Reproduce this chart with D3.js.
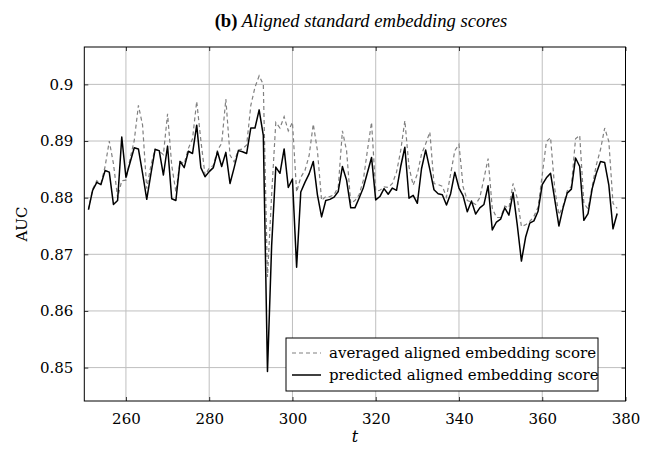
<!DOCTYPE html>
<html>
<head>
<meta charset="utf-8">
<script src="https://cdn.jsdelivr.net/npm/d3@7"></script>
<style>
  body { margin: 0; background: #fff; }
</style>
</head>
<body>
<div id="plot"></div>
<script>
// time steps t = 251 .. 378
const tStart = 251;

const averaged = [
  0.8779, 0.8815, 0.8830, 0.8825, 0.8855, 0.8900, 0.8860, 0.8800, 0.8830, 0.8831,
  0.8869, 0.8901, 0.8963, 0.8928, 0.8816, 0.8857, 0.8886, 0.8882, 0.8876, 0.8948,
  0.8857, 0.8810, 0.8864, 0.8860, 0.8887, 0.8904, 0.8970, 0.8901, 0.8840, 0.8852,
  0.8857, 0.8884, 0.8896, 0.8974, 0.8875, 0.8863, 0.8884, 0.8886, 0.8893, 0.8963,
  0.8995, 0.9015, 0.9000, 0.8660, 0.8805, 0.8933, 0.8923, 0.8943, 0.8918, 0.8933,
  0.8810, 0.8836, 0.8848, 0.8874, 0.8930, 0.8883, 0.8795, 0.8802, 0.8802, 0.8805,
  0.8819, 0.8918, 0.8883, 0.8790, 0.8795, 0.8805, 0.8830, 0.8883, 0.8933, 0.8812,
  0.8813, 0.8819, 0.8818, 0.8825, 0.8845, 0.8883, 0.8936, 0.8854, 0.8822, 0.8842,
  0.8877, 0.8895, 0.8916, 0.8825, 0.8823, 0.8820, 0.8801, 0.8842, 0.8883, 0.8894,
  0.8819, 0.8795, 0.8792, 0.8788, 0.8800, 0.8834, 0.8869, 0.8781, 0.8765, 0.8765,
  0.8785, 0.8782, 0.8825, 0.8799, 0.8749, 0.8752, 0.8758, 0.8767, 0.8783, 0.8840,
  0.8899, 0.8906, 0.8816, 0.8770, 0.8785, 0.8812, 0.8820, 0.8904, 0.8910, 0.8790,
  0.8780, 0.8820, 0.8858, 0.8885, 0.8923, 0.8899, 0.8790, 0.8781
];

const predicted = [
  0.8779, 0.8813, 0.8827, 0.8823, 0.8848, 0.8845, 0.8788, 0.8795, 0.8907, 0.8836,
  0.8862, 0.8888, 0.8886, 0.8843, 0.8797, 0.8842, 0.8885, 0.8883, 0.8840, 0.8891,
  0.8798, 0.8795, 0.8864, 0.8853, 0.8882, 0.8878, 0.8928, 0.8853, 0.8837, 0.8846,
  0.8853, 0.8881, 0.8855, 0.8880, 0.8825, 0.8853, 0.8883, 0.8881, 0.8878, 0.8923,
  0.8923, 0.8955, 0.8910, 0.8493, 0.8715, 0.8854, 0.8843, 0.8886, 0.8818, 0.8833,
  0.8677, 0.8810, 0.8827, 0.8842, 0.8864, 0.8805, 0.8766, 0.8795, 0.8797, 0.8801,
  0.8811, 0.8855, 0.8831, 0.8782, 0.8782, 0.8799, 0.8817, 0.8844, 0.8871, 0.8796,
  0.8802, 0.8816, 0.8806, 0.8817, 0.8813, 0.8855, 0.8889, 0.8799, 0.8804, 0.8790,
  0.8851, 0.8884, 0.8850, 0.8814, 0.8807, 0.8805, 0.8787, 0.8807, 0.8845, 0.8817,
  0.8803, 0.8775, 0.8794, 0.8771, 0.8782, 0.8788, 0.8821, 0.8743, 0.8757, 0.8762,
  0.8782, 0.8769, 0.8809, 0.8752, 0.8688, 0.8730, 0.8755, 0.8759, 0.8776, 0.8823,
  0.8835, 0.8843, 0.8797, 0.8750, 0.8782, 0.8808, 0.8815, 0.8870, 0.8855, 0.8760,
  0.8772, 0.8816, 0.8843, 0.8864, 0.8862, 0.8822, 0.8745, 0.8772
];

const xTicks = [260, 280, 300, 320, 340, 360, 380];
const yTicks = [0.85, 0.86, 0.87, 0.88, 0.89, 0.9];
const legendLabels = ["averaged aligned embedding score", "predicted aligned embedding score"];

const serif = "'DejaVu Serif', serif";
const titleFont = "'Liberation Serif', 'Times New Roman', Times, 'DejaVu Serif', serif";

const W = 657, H = 451;
const margin = { top: 47, right: 31.5, bottom: 50, left: 84.3 };
const width = W - margin.left - margin.right,
      height = H - margin.top - margin.bottom;

const svg = d3.select("#plot")
    .append("svg")
    .attr("width", W)
    .attr("height", H)
    .attr("font-family", serif);

// title
const title = svg.append("text")
    .attr("x", 361)
    .attr("y", 27)
    .attr("text-anchor", "middle")
    .attr("font-family", titleFont)
    .attr("font-size", "21px");
title.append("tspan").attr("font-weight", "bold").text("(b)");
title.append("tspan").attr("font-style", "italic").text(" Aligned standard embedding scores");
// keep title about as wide as in the original
const tw = title.node().getComputedTextLength();
if (tw > 292) title.attr("font-size", (21 * 292 / tw).toFixed(1) + "px");

const g = svg.append("g")
    .attr("transform", `translate(${margin.left},${margin.top})`);

const x = d3.scaleLinear().domain([250, 380]).range([0, width]);
const y = d3.scaleLinear().domain([0.8441, 0.9066]).range([height, 0]);

// grid
g.append("g")
    .selectAll("line")
    .data(xTicks)
    .join("line")
    .attr("x1", d => x(d)).attr("x2", d => x(d))
    .attr("y1", 0).attr("y2", height)
    .attr("stroke", "#bfbfbf").attr("stroke-width", 1);

g.append("g")
    .selectAll("line")
    .data(yTicks)
    .join("line")
    .attr("y1", d => y(d)).attr("y2", d => y(d))
    .attr("x1", 0).attr("x2", width)
    .attr("stroke", "#bfbfbf").attr("stroke-width", 1);

// axes (ticks pointing inward, on all four sides)
const tickFont = g => g.selectAll("text")
    .attr("font-family", serif)
    .attr("font-size", "15px")
    .attr("fill", "#000");

g.append("g")
    .attr("transform", `translate(0,${height})`)
    .call(d3.axisBottom(x).tickValues(xTicks).tickSize(-4).tickPadding(12).tickFormat(d3.format("d")))
    .call(g => g.select(".domain").remove())
    .call(g => g.selectAll("line").attr("stroke", "#333"))
    .call(tickFont);

g.append("g")
    .call(d3.axisTop(x).tickValues(xTicks).tickSize(-4).tickFormat(""))
    .call(g => g.select(".domain").remove())
    .call(g => g.selectAll("line").attr("stroke", "#333"));

g.append("g")
    .call(d3.axisLeft(y).tickValues(yTicks).tickSize(-4).tickPadding(11).tickFormat(d => d3.format("")(+d.toFixed(2))))
    .call(g => g.select(".domain").remove())
    .call(g => g.selectAll("line").attr("stroke", "#333"))
    .call(tickFont);

g.append("g")
    .attr("transform", `translate(${width},0)`)
    .call(d3.axisRight(y).tickValues(yTicks).tickSize(-4).tickFormat(""))
    .call(g => g.select(".domain").remove())
    .call(g => g.selectAll("line").attr("stroke", "#333"));

// lines
const ts = d3.range(tStart, tStart + predicted.length);
const line = d3.line()
    .x((d, i) => x(ts[i]))
    .y(d => y(d));

g.append("path")
    .datum(averaged)
    .attr("fill", "none")
    .attr("stroke", "#808080")
    .attr("stroke-width", 1.2)
    .attr("stroke-dasharray", "4,3")
    .attr("d", line);

g.append("path")
    .datum(predicted)
    .attr("fill", "none")
    .attr("stroke", "#000")
    .attr("stroke-width", 1.5)
    .attr("stroke-linejoin", "round")
    .attr("d", line);

// frame
g.append("rect")
    .attr("width", width)
    .attr("height", height)
    .attr("fill", "none")
    .attr("stroke", "#000")
    .attr("stroke-width", 1);

// axis labels
svg.append("text")
    .attr("x", margin.left + width / 2)
    .attr("y", 442)
    .attr("text-anchor", "middle")
    .attr("font-family", serif)
    .attr("font-size", "16px")
    .attr("font-style", "italic")
    .text("t");

svg.append("text")
    .attr("transform", `translate(27,${margin.top + height / 2}) rotate(-90)`)
    .attr("text-anchor", "middle")
    .attr("font-family", serif)
    .attr("font-size", "15px")
    .text("AUC");

// legend
const legend = g.append("g")
    .attr("transform", `translate(${286 - margin.left},${338 - margin.top})`);

legend.append("rect")
    .attr("width", 312)
    .attr("height", 53)
    .attr("fill", "#fff")
    .attr("stroke", "#000")
    .attr("stroke-width", 1);

const styles = [
    { stroke: "#808080", width: 1.2, dash: "4,3" },
    { stroke: "#000", width: 1.5, dash: null }
];

legendLabels.forEach((label, i) => {
    const cy = 15 + i * 22;
    legend.append("line")
        .attr("x1", 6).attr("x2", 35)
        .attr("y1", cy).attr("y2", cy)
        .attr("stroke", styles[i].stroke)
        .attr("stroke-width", styles[i].width)
        .attr("stroke-dasharray", styles[i].dash);
    legend.append("text")
        .attr("x", 43)
        .attr("y", cy + 5)
        .attr("font-family", serif)
        .attr("font-size", "15px")
        .text(label);
});
</script>
</body>
</html>
